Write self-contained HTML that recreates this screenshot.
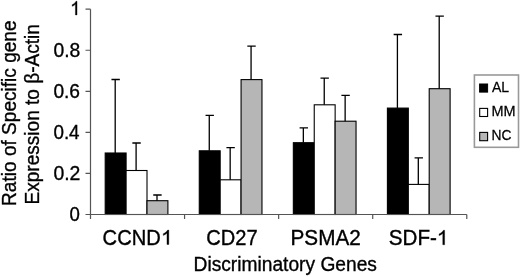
<!DOCTYPE html>
<html><head><meta charset="utf-8"><style>
html,body{margin:0;padding:0;background:#fff;}
body{width:520px;height:277px;overflow:hidden;}
svg{display:block;}
text{font-family:"Liberation Sans",sans-serif;font-size:20px;fill:#000;stroke:#000;stroke-width:0.35px;}
svg{filter:grayscale(1) blur(0.3px);}
</style></head><body>
<svg width="520" height="277" viewBox="0 0 520 277">
<rect x="105.20" y="153.00" width="20.90" height="61.50" fill="#000000" stroke="#000" stroke-width="1.1"/>
<rect x="126.10" y="170.50" width="20.90" height="44.00" fill="#ffffff" stroke="#000" stroke-width="1.1"/>
<rect x="147.00" y="200.70" width="20.90" height="13.80" fill="#b6b6b6" stroke="#000" stroke-width="1.1"/>
<rect x="199.27" y="150.80" width="20.90" height="63.70" fill="#000000" stroke="#000" stroke-width="1.1"/>
<rect x="220.17" y="179.80" width="20.90" height="34.70" fill="#ffffff" stroke="#000" stroke-width="1.1"/>
<rect x="241.07" y="79.60" width="20.90" height="134.90" fill="#b6b6b6" stroke="#000" stroke-width="1.1"/>
<rect x="293.34" y="142.70" width="20.90" height="71.80" fill="#000000" stroke="#000" stroke-width="1.1"/>
<rect x="314.24" y="104.80" width="20.90" height="109.70" fill="#ffffff" stroke="#000" stroke-width="1.1"/>
<rect x="335.14" y="121.20" width="20.90" height="93.30" fill="#b6b6b6" stroke="#000" stroke-width="1.1"/>
<rect x="387.41" y="108.10" width="20.90" height="106.40" fill="#000000" stroke="#000" stroke-width="1.1"/>
<rect x="408.31" y="184.40" width="20.90" height="30.10" fill="#ffffff" stroke="#000" stroke-width="1.1"/>
<rect x="429.21" y="88.70" width="20.90" height="125.80" fill="#b6b6b6" stroke="#000" stroke-width="1.1"/>
<path d="M115.20 153.00V79.50M111.45 79.50H119.85" stroke="#000" stroke-width="1.3" fill="none"/>
<path d="M136.10 170.50V143.00M132.35 143.00H140.75" stroke="#000" stroke-width="1.3" fill="none"/>
<path d="M157.00 200.70V195.00M153.25 195.00H161.65" stroke="#000" stroke-width="1.3" fill="none"/>
<path d="M209.27 150.80V115.40M205.52 115.40H213.92" stroke="#000" stroke-width="1.3" fill="none"/>
<path d="M230.17 179.80V147.70M226.42 147.70H234.82" stroke="#000" stroke-width="1.3" fill="none"/>
<path d="M251.07 79.60V46.20M247.32 46.20H255.72" stroke="#000" stroke-width="1.3" fill="none"/>
<path d="M303.34 142.70V127.80M299.59 127.80H307.99" stroke="#000" stroke-width="1.3" fill="none"/>
<path d="M324.24 104.80V78.10M320.49 78.10H328.89" stroke="#000" stroke-width="1.3" fill="none"/>
<path d="M345.14 121.20V95.40M341.39 95.40H349.79" stroke="#000" stroke-width="1.3" fill="none"/>
<path d="M397.41 108.10V34.50M393.66 34.50H402.06" stroke="#000" stroke-width="1.3" fill="none"/>
<path d="M418.31 184.40V157.80M414.56 157.80H422.96" stroke="#000" stroke-width="1.3" fill="none"/>
<path d="M439.21 88.70V16.20M435.46 16.20H443.86" stroke="#000" stroke-width="1.3" fill="none"/>
<path d="M90.5 9.20V219.0M85.5 214.5H466.78M85.5 214.50H90.5M85.5 173.44H90.5M85.5 132.38H90.5M85.5 91.32H90.5M85.5 50.26H90.5M85.5 9.20H90.5M184.57 214.5V219.0M278.64 214.5V219.0M372.71 214.5V219.0M466.78 214.5V219.0" stroke="#555" stroke-width="1.2" fill="none"/>
<rect x="474.4" y="75" width="44.1" height="72.3" fill="none" stroke="#999" stroke-width="1.6"/>
<rect x="479.6" y="84" width="8" height="8.1" fill="#000" stroke="#000" stroke-width="1"/>
<rect x="479.7" y="108.4" width="7.9" height="8.1" fill="#fff" stroke="#000" stroke-width="1.1"/>
<rect x="479.7" y="132.4" width="7.9" height="8.3" fill="#b6b6b6" stroke="#000" stroke-width="1.1"/>
<text transform="matrix(0.9660 0 0 0.9862 53.396 57.130)">0.8</text>
<text transform="matrix(0.9585 0 0 0.9931 53.401 97.928)">0.6</text>
<text transform="matrix(0.9421 0 0 0.9724 53.411 139.435)">0.4</text>
<text transform="matrix(0.9706 0 0 0.9655 53.393 179.838)">0.2</text>
<text transform="matrix(0.9316 0 0 0.9724 69.618 221.435)">0</text>
<text transform="matrix(1.0067 0 0 1.0621 102.619 244.802)">CCND<tspan style="fill:none;stroke:none">1</tspan></text>
<text transform="matrix(1.0046 0 0 1.0621 206.221 244.802)">CD27</text>
<text transform="matrix(1.0366 0 0 1.0621 290.545 244.802)">PSMA2</text>
<text transform="matrix(1.0320 0 0 1.0621 388.726 244.802)">SDF-<tspan style="fill:none;stroke:none">1</tspan></text>
<text transform="matrix(0.9597 0 0 1.0214 193.560 270.672)">Discriminatory Genes</text>
<text transform="matrix(0.7005 0 0 0.7714 491.888 91.904)">AL</text>
<text transform="matrix(0.7243 0 0 0.7429 491.414 115.907)">MM</text>
<text transform="matrix(0.6916 0 0 0.7517 491.463 140.118)">NC</text>
<text transform="matrix(0 -0.9539 1.0071 0 15.674 205.931)">Ratio of Specific gene</text>
<text transform="matrix(0 -0.9537 0.9929 0 39.076 204.531)">Expression to &#946;-Actin</text>
<text x="72" y="15" style="fill:none;stroke:none">1</text>
<path d="M77.03 14.92H75.41V4.33Q74.82 4.90 73.88 5.47Q72.93 6.05 72.17 6.33V4.72Q73.53 4.07 74.55 3.14Q75.56 2.20 75.98 1.32H77.03Z" fill="#000" stroke="#000" stroke-width="0.35"/>
<path d="M168.82 244.52H166.97V233.27Q166.31 233.87 165.22 234.48Q164.14 235.09 163.28 235.40V233.69Q164.83 232.99 165.99 232.00Q167.15 231.01 167.63 230.08H168.82Z" fill="#000" stroke="#000" stroke-width="0.35"/>
<path d="M444.62 244.72H442.77V233.47Q442.11 234.07 441.02 234.68Q439.94 235.29 439.07 235.60V233.89Q440.63 233.19 441.79 232.20Q442.95 231.21 443.43 230.28H444.62Z" fill="#000" stroke="#000" stroke-width="0.35"/>
</svg>
</body></html>
